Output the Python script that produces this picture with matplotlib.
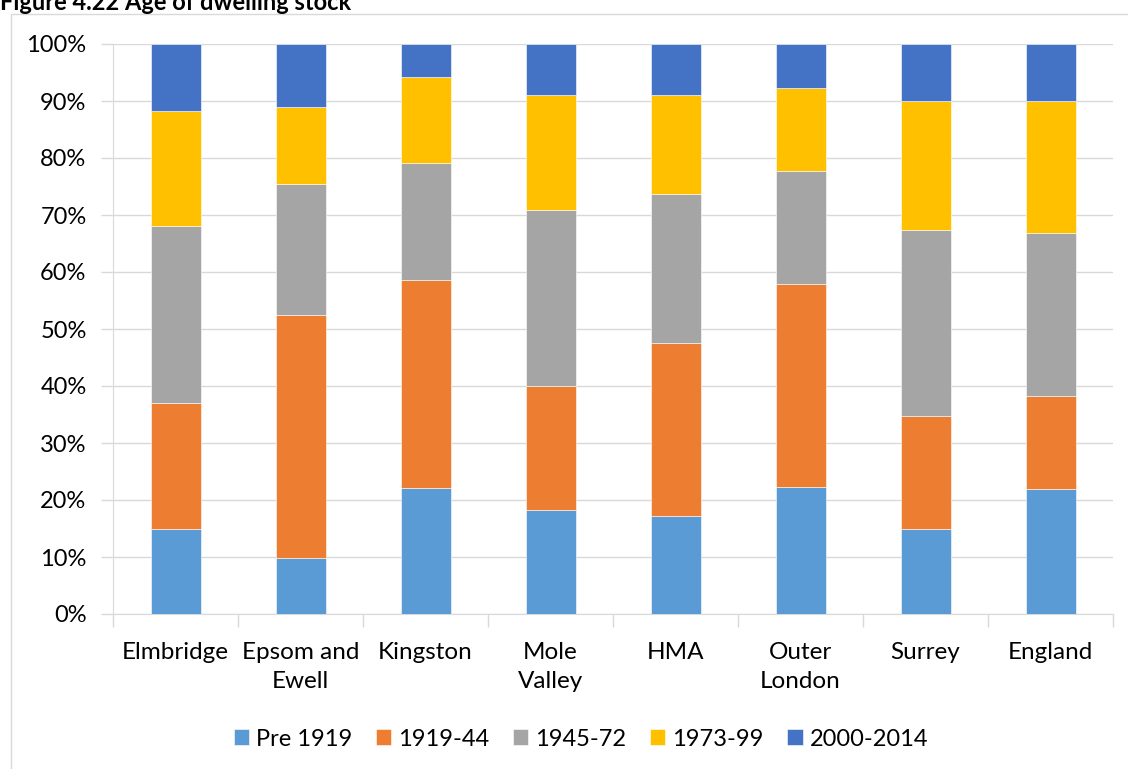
import numpy as np
import matplotlib
matplotlib.use('Agg')
import matplotlib.pyplot as plt
from matplotlib.patches import Rectangle

plt.rcParams['font.family'] = ['Lato', 'DejaVu Sans']

# data (share of dwelling stock, %)
areas = ['Elmbridge', 'Epsom and\nEwell', 'Kingston', 'Mole\nValley', 'HMA',
         'Outer\nLondon', 'Surrey', 'England']
periods = ['Pre 1919', '1919-44', '1945-72', '1973-99', '2000-2014']
pre_1919 = [15.0, 9.8, 22.1, 18.2, 17.2, 22.3, 14.9, 21.9]
y1919_44 = [22.0, 42.7, 36.5, 21.8, 30.3, 35.6, 19.8, 16.3]
y1945_72 = [31.1, 22.9, 20.5, 30.9, 26.2, 19.8, 32.7, 28.6]
y1973_99 = [20.1, 13.5, 15.1, 20.2, 17.3, 14.6, 22.6, 23.2]
y2000_14 = [11.8, 11.1, 5.8, 8.9, 9.0, 7.7, 10.0, 10.0]
colors = ['#5B9BD5', '#ED7D31', '#A5A5A5', '#FFC000', '#4472C4']

series = [pre_1919, y1919_44, y1945_72, y1973_99, y2000_14]

fig = plt.figure(figsize=(11.28, 7.69), dpi=100)
ax = fig.add_axes([113/1128, 1 - 614/769, 1000/1128, 570/769])

# outer chart frame
fig.patches.append(Rectangle((11/1128, -0.01), 1.02, 1 - 14/769 + 0.01,
                             transform=fig.transFigure, fill=False,
                             edgecolor='#d9d9d9', linewidth=1))
fig.text(0.0, 1 - 3/769, 'Figure 4.22 Age of dwelling stock', fontsize=17,
         fontweight='bold', ha='left', va='center')

x = np.arange(len(areas))
bottom = np.zeros(len(areas))
for name, vals, c in zip(periods, series, colors):
    ax.bar(x, vals, width=0.4, bottom=bottom, color=c, label=name,
           edgecolor='white', linewidth=0.4, zorder=3)
    bottom += np.array(vals)

ax.set_xlim(-0.5, len(areas) - 0.5)
ax.set_ylim(0, 100)
ax.set_yticks(np.arange(0, 101, 10))
ax.set_yticklabels([f'{v}%' for v in range(0, 101, 10)], fontsize=17)
ax.set_xticks(x)
ax.set_xticklabels(areas, fontsize=17.5, linespacing=1.5)
ax.tick_params(axis='x', length=0, pad=20)
ax.tick_params(axis='y', length=9, color='#d9d9d9', width=1, pad=10)

# category separator ticks
ax.set_xticks(np.arange(-0.5, len(areas)), minor=True)
ax.tick_params(axis='x', which='minor', length=9, color='#d9d9d9', width=1)

ax.grid(axis='y', color='#d9d9d9', linewidth=1, zorder=0)
for s in ['top', 'right']:
    ax.spines[s].set_visible(False)
ax.spines['left'].set_color('#d9d9d9')
ax.spines['bottom'].set_color('#d9d9d9')

fig.legend(loc='center', bbox_to_anchor=(581/1128, 1 - 739/769), ncol=5,
           frameon=False, fontsize=17, handlelength=0.65, handleheight=0.65,
           handletextpad=0.3, columnspacing=1.0)

fig.savefig('out.png', dpi=100)
